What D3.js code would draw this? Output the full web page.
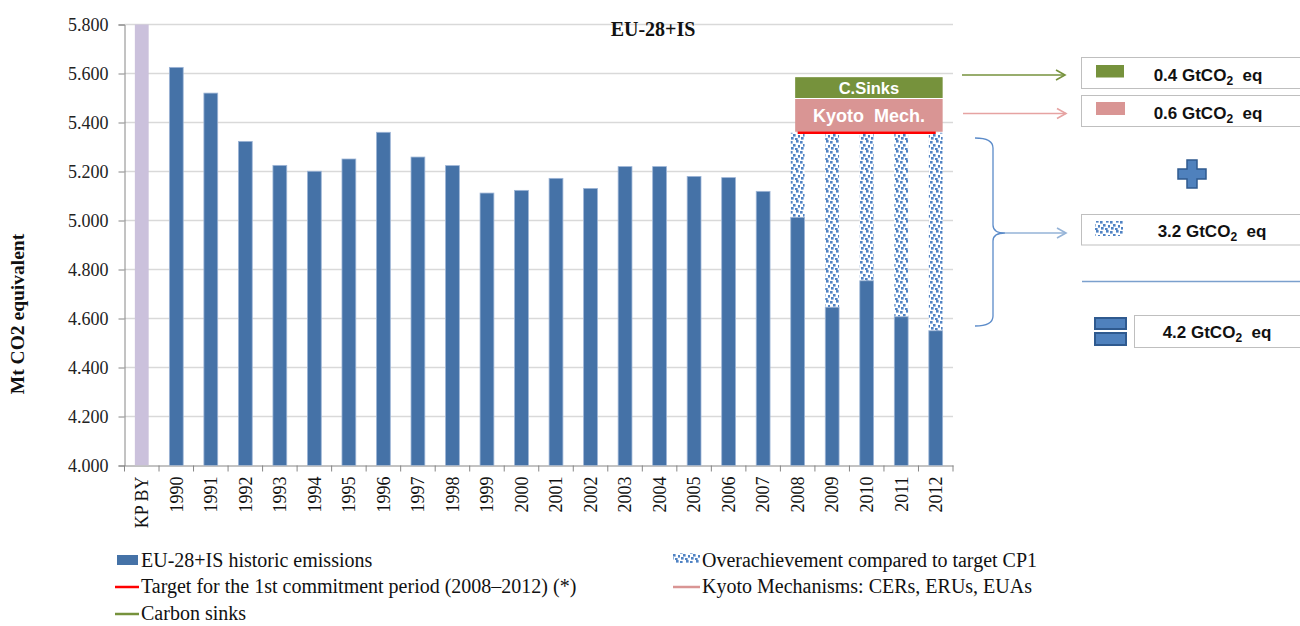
<!DOCTYPE html>
<html>
<head>
<meta charset="utf-8">
<script src="https://cdn.jsdelivr.net/npm/d3@7"></script>
<style>
  html, body { margin: 0; padding: 0; background: #fff; }
  svg { display: block; }
</style>
</head>
<body>
<svg id="chart" width="1300" height="626"></svg>
<script>
// ---------- DATA ----------
const categories = ["KP BY","1990","1991","1992","1993","1994","1995","1996","1997","1998","1999","2000",
  "2001","2002","2003","2004","2005","2006","2007","2008","2009","2010","2011","2012"];
const baseYearValue = 5950; // KP base year, exceeds axis top (clipped)
const historicEmissions = [null, 5625, 5520, 5323, 5225, 5201, 5251, 5360, 5259, 5224, 5112, 5123,
  5172, 5131, 5220, 5220, 5180, 5175, 5119, 5013, 4646, 4754, 4607, 4550];
const targetCP1 = 5358;
const cp1Years = ["2008","2009","2010","2011","2012"];
const kyotoMechTop = 5500;
const carbonSinksTop = 5585;
const yTicks = [4000, 4200, 4400, 4600, 4800, 5000, 5200, 5400, 5600, 5800];
const yDomain = [4000, 5800];
const summaryLabels = ["0.4", "0.6", "3.2", "4.2"];

// ---------- SETUP ----------
const svg = d3.select("#chart");
const serif = "'Liberation Serif', 'Times New Roman', serif";
const sans = "'Liberation Sans', Arial, sans-serif";
const blue = "#4572A7";
const lav = "#CBC1DC";
const green = "#76923C";
const pink = "#D99594";
const red = "#FF0000";

const plot = {left: 124.5, right: 953, top: 24.5, bottom: 465.5};

const x = d3.scaleBand().domain(categories).range([plot.left, plot.right]).paddingInner(0.6).paddingOuter(0.3);
const y = d3.scaleLinear().domain(yDomain).range([plot.bottom, plot.top]);

// pattern for overachievement
const defs = svg.append("defs");
const pat = defs.append("pattern").attr("id", "dots").attr("patternUnits", "userSpaceOnUse")
  .attr("width", 10).attr("height", 10);
pat.append("rect").attr("width", 10).attr("height", 10).attr("fill", "#fff");
[[0,1],[6,0],[3,4],[8,5],[1,7],[5,8]].forEach(([px,py]) => {
  pat.append("rect").attr("x", px).attr("y", py).attr("width", 2.6).attr("height", 2.6).attr("fill", "#5083C4");
});
defs.append("clipPath").attr("id", "plotclip").append("rect")
  .attr("x", plot.left).attr("y", plot.top).attr("width", plot.right - plot.left).attr("height", plot.bottom - plot.top);

// gridlines
svg.append("g").selectAll("line").data(yTicks.slice(1)).join("line")
  .attr("x1", plot.left).attr("x2", plot.right)
  .attr("y1", d => y(d)).attr("y2", d => y(d))
  .attr("stroke", "#D9D9D9").attr("stroke-width", 1.3);

// y axis
const yAxis = d3.axisLeft(y).tickValues(yTicks).tickSize(6).tickPadding(10)
  .tickFormat(d => d3.format(".3f")(d / 1000));
const gy = svg.append("g").attr("transform", `translate(${plot.left},0)`).call(yAxis);
gy.select(".domain").attr("stroke", "#868686");
gy.selectAll(".tick line").attr("stroke", "#868686");
gy.selectAll(".tick text").attr("font-family", serif).attr("font-size", 18).attr("fill", "#222");

// x axis
const xAxis = d3.axisBottom(x).tickSize(0).tickPadding(0);
const gx = svg.append("g").attr("transform", `translate(0,${plot.bottom})`).call(xAxis);
gx.select(".domain").attr("stroke", "#868686");
gx.selectAll(".tick text")
  .attr("font-family", serif).attr("font-size", 18).attr("fill", "#111")
  .attr("text-anchor", "end")
  .attr("transform", "rotate(-90)")
  .attr("x", -11).attr("y", 0).attr("dy", "0.35em");
// x category boundary ticks
const bounds = categories.map(c => x(c) - x.step() * x.paddingInner() / 2).concat([plot.right]);
svg.append("g").selectAll("line").data(bounds).join("line")
  .attr("x1", d => d).attr("x2", d => d)
  .attr("y1", plot.bottom).attr("y2", plot.bottom + 6)
  .attr("stroke", "#868686");

// bars
const bars = svg.append("g").attr("clip-path", "url(#plotclip)");
bars.append("rect")
  .attr("x", x("KP BY")).attr("width", x.bandwidth())
  .attr("y", y(baseYearValue)).attr("height", y(yDomain[0]) - y(baseYearValue))
  .attr("fill", lav);

const histData = categories.map((c, i) => ({c, v: historicEmissions[i]})).filter(d => d.v != null);
// overachievement (stacked above historic, up to target)
bars.selectAll("rect.over").data(histData.filter(d => cp1Years.includes(d.c))).join("rect")
  .attr("class", "over")
  .attr("x", d => x(d.c)).attr("width", x.bandwidth())
  .attr("y", d => y(targetCP1)).attr("height", d => y(d.v) - y(targetCP1))
  .attr("fill", "url(#dots)");
bars.selectAll("rect.hist").data(histData).join("rect")
  .attr("class", "hist")
  .attr("x", d => x(d.c)).attr("width", x.bandwidth())
  .attr("y", d => y(d.v)).attr("height", d => y(yDomain[0]) - y(d.v))
  .attr("fill", blue).attr("stroke", "#9DB5D6").attr("stroke-width", 0.8);

// Kyoto mech & sinks boxes
const boxX0 = x(cp1Years[0]) + x.bandwidth() / 2 - 2.5;
const boxX1 = x(cp1Years[cp1Years.length - 1]) + x.bandwidth();
svg.append("rect").attr("x", boxX0).attr("width", boxX1 - boxX0)
  .attr("y", y(carbonSinksTop)).attr("height", y(kyotoMechTop) - y(carbonSinksTop))
  .attr("fill", green);
svg.append("rect").attr("x", boxX0).attr("width", boxX1 - boxX0)
  .attr("y", y(kyotoMechTop) + 1).attr("height", y(targetCP1) - y(kyotoMechTop) - 2)
  .attr("fill", pink);
svg.append("text").attr("x", (boxX0 + boxX1) / 2).attr("y", (y(carbonSinksTop) + y(kyotoMechTop)) / 2)
  .attr("dy", "0.36em").attr("text-anchor", "middle")
  .attr("font-family", sans).attr("font-weight", "bold").attr("font-size", 16.5).attr("fill", "#fff")
  .text("C.Sinks");
svg.append("text").attr("x", (boxX0 + boxX1) / 2).attr("y", (y(kyotoMechTop) + y(targetCP1)) / 2)
  .attr("dy", "0.36em").attr("text-anchor", "middle")
  .attr("font-family", sans).attr("font-weight", "bold").attr("font-size", 18).attr("fill", "#fff")
  .attr("xml:space", "preserve")
  .text("Kyoto  Mech.");
// target line
svg.append("line")
  .attr("x1", x(cp1Years[0]) + x.bandwidth() / 2).attr("x2", x(cp1Years[cp1Years.length - 1]) + x.bandwidth() / 2)
  .attr("y1", y(targetCP1)).attr("y2", y(targetCP1))
  .attr("stroke", red).attr("stroke-width", 2.5);

// title
svg.append("text").attr("x", 653).attr("y", 36).attr("text-anchor", "middle")
  .attr("font-family", serif).attr("font-weight", "bold").attr("font-size", 20).attr("fill", "#111")
  .text("EU-28+IS");

// y axis title
svg.append("text").attr("transform", "translate(24,314) rotate(-90)").attr("text-anchor", "middle")
  .attr("font-family", serif).attr("font-weight", "bold").attr("font-size", 19.5).attr("fill", "#111")
  .text("Mt CO2 equivalent");

// ---------- right-hand annotations ----------
function arrow(x1, x2, yy, color) {
  svg.append("line").attr("x1", x1).attr("x2", x2).attr("y1", yy).attr("y2", yy)
    .attr("stroke", color).attr("stroke-width", 1.6);
  svg.append("path").attr("d", `M${x2 - 9},${yy - 5} L${x2},${yy} L${x2 - 9},${yy + 5}`)
    .attr("fill", "none").attr("stroke", color).attr("stroke-width", 1.6);
}
arrow(962, 1065, 75, green);
arrow(963, 1066, 113.5, "#E6A3A2");

// brace
const bTop = 138, bBot = 326, bMid = 233, bx = 993;
svg.append("path")
  .attr("d", `M975,${bTop} Q${bx},${bTop} ${bx},${bTop + 10} L${bx},${bMid - 8} Q${bx},${bMid} ${bx + 12},${bMid}
              Q${bx},${bMid} ${bx},${bMid + 8} L${bx},${bBot - 10} Q${bx},${bBot} 975,${bBot}`)
  .attr("fill", "none").attr("stroke", "#5B8BC9").attr("stroke-width", 1.3);
arrow(1005, 1066, bMid, "#95B3D7");

function gtLabel(cx, cyBase, val) {
  const t = svg.append("text").attr("x", cx).attr("y", cyBase).attr("text-anchor", "middle")
    .attr("font-family", sans).attr("font-weight", "bold").attr("font-size", 17).attr("fill", "#111");
  t.append("tspan").text(val + " GtCO");
  t.append("tspan").attr("font-size", 12).attr("dy", 4).text("2");
  t.append("tspan").attr("dy", -4).attr("xml:space", "preserve").text("  eq");
}
function box(x0, y0, w, h) {
  svg.append("rect").attr("x", x0).attr("y", y0).attr("width", w).attr("height", h)
    .attr("fill", "#fff").attr("stroke", "#BFBFBF").attr("stroke-width", 1);
}
// box 1: carbon sinks
box(1081.5, 57.5, 230, 31);
svg.append("rect").attr("x", 1096).attr("y", 65).attr("width", 28).attr("height", 12.5).attr("fill", green);
gtLabel(1208, 81, summaryLabels[0]);
// box 2: Kyoto mechanisms
box(1081.5, 95.5, 230, 31);
svg.append("rect").attr("x", 1096).attr("y", 102).attr("width", 29).attr("height", 13).attr("fill", pink);
gtLabel(1208, 119, summaryLabels[1]);
// plus sign
const pcx = 1192, pcy = 174;
svg.append("path")
  .attr("d", `M${pcx - 5},${pcy - 14} h10 v9 h9 v10 h-9 v9 h-10 v-9 h-9 v-10 h9 z`)
  .attr("fill", "#4F81BD").attr("stroke", "#2F5A8F").attr("stroke-width", 1.5);
// box 3: overachievement
box(1081.5, 214.5, 230, 30.5);
svg.append("rect").attr("x", 1095).attr("y", 221).attr("width", 28).attr("height", 15).attr("fill", "url(#dots)");
gtLabel(1212, 237, summaryLabels[2]);
// separator line
svg.append("line").attr("x1", 1082).attr("x2", 1300).attr("y1", 281.5).attr("y2", 281.5)
  .attr("stroke", "#7BA0CD").attr("stroke-width", 1.3);
// equals sign
[[318, 11], [333, 12]].forEach(([yy, hh]) => {
  svg.append("rect").attr("x", 1095).attr("y", yy).attr("width", 31).attr("height", hh)
    .attr("fill", "#4F81BD").attr("stroke", "#2F5A8F").attr("stroke-width", 2);
});
// box 4: total
box(1134.5, 315.5, 180, 32);
gtLabel(1217, 338, summaryLabels[3]);

// ---------- legend ----------
const lg = svg.append("g").attr("font-family", serif).attr("fill", "#111");
function legText(xx, yy, s, fs) {
  lg.append("text").attr("x", xx).attr("y", yy).attr("dy", "0.35em").attr("font-size", fs).text(s);
}
lg.append("rect").attr("x", 117).attr("y", 555).attr("width", 21).attr("height", 10).attr("fill", blue);
legText(141, 560, "EU-28+IS historic emissions", 20);
lg.append("line").attr("x1", 115).attr("x2", 139).attr("y1", 587).attr("y2", 587).attr("stroke", red).attr("stroke-width", 2.5);
legText(141, 586, "Target for the 1st commitment period (2008–2012) (*)", 20);
lg.append("line").attr("x1", 115).attr("x2", 139).attr("y1", 614).attr("y2", 614).attr("stroke", green).attr("stroke-width", 2.5);
legText(141, 613, "Carbon sinks", 20);
lg.append("rect").attr("x", 673).attr("y", 553).attr("width", 27).attr("height", 10).attr("fill", "url(#dots)");
legText(702, 560, "Overachievement compared to target CP1", 20);
lg.append("line").attr("x1", 673).attr("x2", 700).attr("y1", 587).attr("y2", 587).attr("stroke", pink).attr("stroke-width", 2.5);
legText(702, 586, "Kyoto Mechanisms: CERs, ERUs, EUAs", 20);
</script>
</body>
</html>
